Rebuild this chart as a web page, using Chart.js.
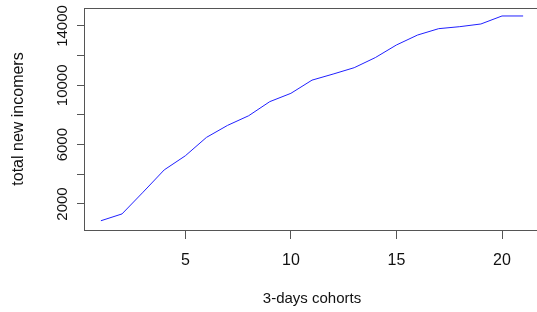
<!DOCTYPE html>
<html>
<head>
<meta charset="utf-8">
<script src="https://cdn.jsdelivr.net/npm/chart.js@4/dist/chart.umd.min.js"></script>
<style>
  html, body { margin: 0; padding: 0; background: #fff; overflow: hidden; }
  #wrap { width: 537px; height: 312px; overflow: hidden; position: relative; }
  canvas { display: block; }
</style>
</head>
<body>
<div id="wrap"><canvas id="c" width="600" height="312"></canvas></div>
<script>
const cohorts = [1, 2, 3, 4, 5, 6, 7, 8, 9, 10, 11, 12, 13, 14, 15, 16, 17, 18, 19, 20, 21];
const newIncomers = [870, 1330, 2800, 4300, 5250, 6490, 7300, 7950, 8900, 9460, 10350, 10760, 11190, 11870, 12720, 13390, 13820, 13955, 14135, 14675, 14675];
const xTicks = [5, 10, 15, 20];
const yTicks = [2000, 4000, 6000, 8000, 10000, 12000, 14000];
const yLabelled = [2000, 6000, 10000, 14000];

const axisColor = '#555';
const textColor = '#111';
const fam = '"Liberation Sans", Arial, sans-serif';

const boxPlugin = {
  id: 'box',
  afterDraw(chart) {
    const {ctx, chartArea: a} = chart;
    ctx.save();
    ctx.strokeStyle = axisColor;
    ctx.lineWidth = 1;
    ctx.strokeRect(Math.round(a.left) + 0.5, Math.round(a.top) + 0.5, Math.round(a.right - a.left), Math.round(a.bottom - a.top));
    ctx.restore();
  }
};

new Chart(document.getElementById('c'), {
  type: 'line',
  data: {
    datasets: [{
      data: cohorts.map((x, i) => ({x: x, y: newIncomers[i]})),
      borderColor: '#2020FF',
      borderWidth: 1,
      pointRadius: 0,
      tension: 0,
      fill: false
    }]
  },
  options: {
    responsive: false,
    animation: false,
    devicePixelRatio: 1,
    layout: { padding: { top: 8, right: 60, left: 0, bottom: 0 } },
    plugins: { legend: { display: false }, tooltip: { enabled: false } },
    scales: {
      x: {
        type: 'linear',
        min: 0.2,
        max: 21.8,
        afterBuildTicks: s => { s.ticks = xTicks.map(v => ({value: v})); },
        afterFit: s => { s.height = 82; },
        grid: { drawOnChartArea: false, tickLength: 9, tickColor: axisColor, lineWidth: 1 },
        border: { display: false },
        ticks: { color: textColor, font: { family: fam, size: 16 }, padding: 12, maxRotation: 0, autoSkip: false },
        title: { display: true, text: '3-days cohorts', color: textColor, font: { family: fam, size: 15 }, padding: { top: 0, bottom: 4 } }
      },
      y: {
        type: 'linear',
        min: 247,
        max: 15213,
        afterBuildTicks: s => { s.ticks = yTicks.map(v => ({value: v})); },
        afterFit: s => { s.width = 84; },
        grid: { drawOnChartArea: false, tickLength: 7, tickColor: axisColor, lineWidth: 1 },
        border: { display: false },
        ticks: {
          color: textColor, font: { family: fam, size: 15 }, padding: -7, autoSkip: false,
          minRotation: 90, maxRotation: 90, crossAlign: 'center',
          callback: v => yLabelled.includes(v) ? String(v) : ''
        },
        title: { display: true, text: 'total new incomers', color: textColor, font: { family: fam, size: 16 }, padding: { top: 9, bottom: 0 } }
      }
    }
  },
  plugins: [boxPlugin]
});
</script>
</body>
</html>
